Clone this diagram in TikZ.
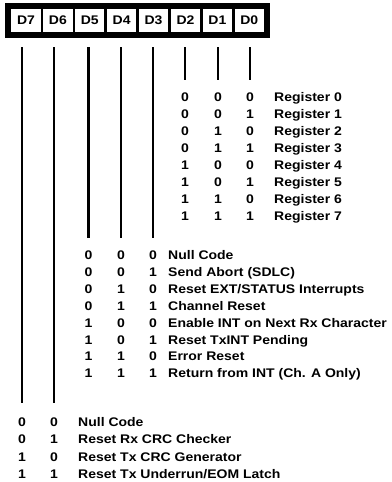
\documentclass[tikz,border=0pt]{standalone}
\usepackage{fontspec}
\newfontfamily\tblfont{Liberation Sans}[FakeStretch=1.12]
\begin{document}
\begin{tikzpicture}[x=1pt,y=-1pt,
  txt/.style={font=\tblfont\bfseries\fontsize{12.5}{14}\selectfont, inner sep=0pt},
  dig/.style={txt, anchor=base},
  lbl/.style={txt, anchor=base west},
  cell/.style={txt, draw, line width=2.5pt, minimum width=31.9pt, minimum height=25pt, anchor=center},
  frame/.style={draw, line width=5pt},
  vline/.style={line width=2.8pt}]
\useasboundingbox (0,0) rectangle (391,482);
% register cells
\foreach \k/\n in {0/7,1/6,2/5,3/4,4/3,5/2,6/1,7/0} {
  \node[cell] (d\n) at ({10+31.9*(\k+0.5)},20.5) {D\n};
}
\draw[frame] (7.5,5.5) rectangle (267.5,35.5);
% line tops and bottoms
\foreach \n/\x/\e in {7/22/403,6/54/403,5/88.5/238,4/121/238,3/153/238,2/185/80,1/218/80,0/250/80} {
  \coordinate (t\n) at (\x,47);
  \coordinate (b\n) at (\x,\e);
  \draw[vline] (t\n) -- (b\n);
}
% register table
\foreach \r/\a/\b/\c in {0/0/0/0,1/0/0/1,2/0/1/0,3/0/1/1,4/1/0/0,5/1/0/1,6/1/1/0,7/1/1/1} {
  \pgfmathsetmacro\yy{97+17.07*\r+4.5}
  \node[dig] (ra\r) at (185,\yy) {\a};
  \node[dig] (rb\r) at (218,\yy) {\b};
  \node[dig] (rc\r) at (250,\yy) {\c};
  \node[lbl] (rt\r) at (274,\yy) {Register \r};
}
% command table
\foreach \r/\a/\b/\c/\t in {0/0/0/0/{Null Code},1/0/0/1/{Send Abort (SDLC)},2/0/1/0/{Reset EXT/STATUS Interrupts},3/0/1/1/{Channel Reset},4/1/0/0/{Enable INT on Next Rx Character},5/1/0/1/{Reset TxINT Pending},6/1/1/0/{Error Reset},7/1/1/1/{Return from INT (Ch. A Only)}} {
  \pgfmathsetmacro\yy{255+16.9*\r+4.5}
  \node[dig] (ca\r) at (88.5,\yy) {\a};
  \node[dig] (cb\r) at (121,\yy) {\b};
  \node[dig] (cc\r) at (153,\yy) {\c};
  \node[lbl] (ct\r) at (168,\yy) {\t};
}
% CRC table
\foreach \r/\a/\b/\t in {0/0/0/{Null Code},1/0/1/{Reset Rx CRC Checker},2/1/0/{Reset Tx CRC Generator},3/1/1/{Reset Tx Underrun/EOM Latch}} {
  \pgfmathsetmacro\yy{421.7+17.4*\r+4.5}
  \node[dig] (xa\r) at (22,\yy) {\a};
  \node[dig] (xb\r) at (54,\yy) {\b};
  \node[lbl] (xt\r) at (78,\yy) {\t};
}
\end{tikzpicture}
\end{document}
